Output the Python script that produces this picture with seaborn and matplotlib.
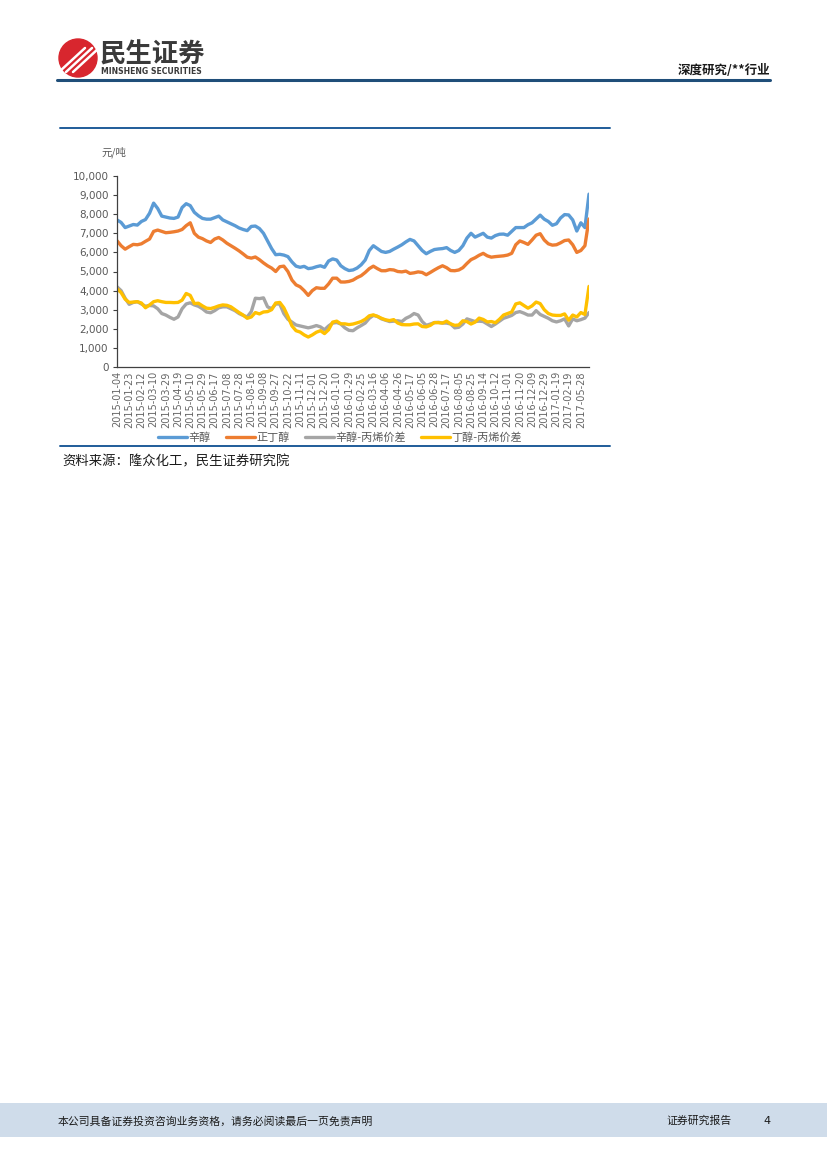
import numpy as np
import pandas as pd
import matplotlib
matplotlib.use("Agg")
import matplotlib.pyplot as plt
import seaborn as sns
from matplotlib.patches import Circle, Rectangle
from matplotlib.ticker import FuncFormatter

# x axis labels (one label every 3 points)
tick_labels = ['2015-01-04', '2015-01-23', '2015-02-12', '2015-03-10', '2015-03-29', '2015-04-19',
               '2015-05-10', '2015-05-29', '2015-06-17', '2015-07-08', '2015-07-28', '2015-08-16',
               '2015-09-08', '2015-09-27', '2015-10-22', '2015-11-11', '2015-12-01', '2015-12-20',
               '2016-01-10', '2016-01-29', '2016-02-25', '2016-03-16', '2016-04-06', '2016-04-26',
               '2016-05-17', '2016-06-05', '2016-06-28', '2016-07-17', '2016-08-05', '2016-08-25',
               '2016-09-14', '2016-10-12', '2016-11-01', '2016-11-20', '2016-12-09', '2016-12-29',
               '2017-01-19', '2017-02-19', '2017-05-28']

# prices, 元/吨
octanol = [7700, 7570, 7300, 7380, 7460, 7430, 7620, 7720, 8050, 8580,
           8300, 7900, 7850, 7800, 7780, 7850, 8350, 8550, 8450, 8100,
           7920, 7780, 7740, 7740, 7820, 7900, 7700, 7600, 7500, 7400,
           7280, 7200, 7140, 7360, 7380, 7250, 7000, 6600, 6200, 5880,
           5900, 5860, 5780, 5500, 5280, 5220, 5270, 5150, 5180, 5250,
           5300, 5220, 5550, 5660, 5600, 5300, 5150, 5050, 5080, 5180,
           5350, 5600, 6100, 6350, 6200, 6050, 6000, 6050, 6170, 6280,
           6400, 6550, 6680, 6600, 6350, 6100, 5930, 6050, 6150, 6180,
           6200, 6250, 6100, 6000, 6100, 6350, 6750, 7000, 6800, 6900,
           7000, 6800, 6750, 6880, 6950, 6960, 6900, 7100, 7300, 7300,
           7300, 7450, 7550, 7750, 7950, 7740, 7620, 7420, 7500, 7800,
           7980, 7960, 7700, 7120, 7550, 7300, 9050]

butanol = [6610, 6350, 6170, 6300, 6420, 6400, 6450, 6580, 6700, 7100,
           7170, 7100, 7030, 7050, 7080, 7120, 7200, 7400, 7550, 7000,
           6800, 6720, 6600, 6520, 6700, 6780, 6650, 6480, 6350, 6220,
           6080, 5920, 5750, 5700, 5760, 5620, 5450, 5300, 5180, 5000,
           5250, 5280, 5000, 4550, 4300, 4200, 4000, 3750, 4000, 4150,
           4120, 4120, 4350, 4650, 4650, 4450, 4450, 4480, 4550, 4680,
           4780, 4950, 5150, 5280, 5150, 5040, 5040, 5100, 5080, 5000,
           4980, 5020, 4900, 4930, 4980, 4950, 4830, 4950, 5080, 5200,
           5300, 5200, 5050, 5040, 5080, 5200, 5420, 5620, 5720, 5850,
           5950, 5820, 5750, 5780, 5800, 5820, 5860, 5950, 6400, 6600,
           6520, 6420, 6650, 6900, 6980, 6650, 6450, 6380, 6400, 6500,
           6620, 6650, 6400, 6000, 6100, 6350, 7750]

octanol_spread = [4200, 4000, 3600, 3280, 3380, 3420, 3300, 3180, 3220, 3200,
                  3050, 2800, 2720, 2600, 2500, 2620, 3050, 3300, 3360, 3250,
                  3180, 3050, 2880, 2840, 2950, 3100, 3150, 3150, 3050, 2950,
                  2800, 2700, 2620, 2900, 3600, 3580, 3620, 3150, 3050, 3300,
                  3300, 2800, 2500, 2350, 2200, 2150, 2100, 2050, 2100, 2170,
                  2100, 1950, 2150, 2300, 2330, 2250, 2050, 1920, 1900, 2050,
                  2170, 2300, 2550, 2700, 2650, 2520, 2450, 2380, 2400, 2420,
                  2380, 2550, 2650, 2800, 2720, 2380, 2180, 2250, 2320, 2340,
                  2300, 2300, 2250, 2050, 2080, 2250, 2520, 2450, 2380, 2400,
                  2380, 2250, 2120, 2250, 2400, 2550, 2620, 2700, 2850, 2900,
                  2820, 2720, 2720, 2950, 2750, 2650, 2550, 2420, 2360, 2420,
                  2520, 2150, 2520, 2420, 2480, 2560, 2850]

butanol_spread = [4100, 3900, 3550, 3380, 3400, 3420, 3350, 3100, 3250, 3420,
                  3470, 3420, 3380, 3380, 3370, 3380, 3500, 3850, 3750, 3320,
                  3340, 3200, 3080, 3060, 3120, 3200, 3250, 3230, 3150, 3000,
                  2850, 2720, 2550, 2620, 2850, 2780, 2880, 2900, 3000, 3350,
                  3380, 3100, 2650, 2150, 1900, 1830, 1680, 1570, 1680, 1820,
                  1900, 1750, 1950, 2350, 2400, 2260, 2260, 2220, 2250, 2310,
                  2380, 2500, 2680, 2730, 2650, 2550, 2470, 2430, 2480, 2300,
                  2220, 2210, 2210, 2250, 2260, 2120, 2100, 2180, 2330, 2320,
                  2300, 2400, 2260, 2180, 2200, 2420, 2380, 2250, 2350, 2560,
                  2490, 2360, 2380, 2320, 2500, 2720, 2800, 2880, 3300, 3360,
                  3220, 3080, 3200, 3400, 3320, 3000, 2800, 2720, 2700, 2700,
                  2780, 2450, 2720, 2620, 2850, 2750, 4220]

series_names = ['辛醇', '正丁醇', '辛醇-丙烯价差', '丁醇-丙烯价差']
colors = ['#5b9bd5', '#ed7d31', '#a5a5a5', '#ffc000']

df = pd.DataFrame({
    '辛醇': octanol,
    '正丁醇': butanol,
    '辛醇-丙烯价差': octanol_spread,
    '丁醇-丙烯价差': butanol_spread,
})
df['idx'] = np.arange(len(df))
long_df = df.melt(id_vars='idx', var_name='series', value_name='price')

sns.set_theme(style="ticks")
plt.rcParams['font.family'] = ['DejaVu Sans', 'Noto Sans CJK SC']
cjk = ['Noto Sans CJK SC', 'DejaVu Sans']

W, H = 827, 1169
fig = plt.figure(figsize=(W / 100, H / 100), dpi=100)

# page decoration in pixel coordinates
page = fig.add_axes([0, 0, 1, 1])
page.set_xlim(0, W)
page.set_ylim(H, 0)
page.axis('off')

# logo
page.add_patch(Circle((78, 58), 19, color='#d8262e'))
for off in [-7, 0, 7]:
    page.plot([66 + off, 92 + off], [72, 48], color='white', lw=1.8, solid_capstyle='round')
page.text(100, 55, '民生证券', fontsize=19, fontweight='bold', color='#3a3a3a',
          family=cjk, va='center', ha='left')
page.text(101, 71.5, 'MINSHENG SECURITIES', fontsize=5.6, fontweight='bold', color='#3a3a3a',
          va='center', ha='left')
page.text(770, 70, '深度研究/**行业', fontsize=9, fontweight='bold', color='#1a1a1a',
          family=cjk, va='center', ha='right')
page.plot([57, 770], [79.5, 79.5], color='#1f4e79', lw=2.2)

# chart frame lines
page.plot([60, 610], [128, 128], color='#1f5c99', lw=1.4)
page.plot([60, 610], [446, 446], color='#1f5c99', lw=1.4)
page.text(62, 461, '资料来源：隆众化工，民生证券研究院', fontsize=9.6, color='#1a1a1a',
          family=cjk, va='center', ha='left')
page.text(101, 152, '元/吨', fontsize=7.5, color='#595959', family=cjk, va='center', ha='left')

# footer band
page.add_patch(Rectangle((0, 1103), W, 34, color='#cfdcea', lw=0))
page.text(58, 1121, '本公司具备证券投资咨询业务资格，请务必阅读最后一页免责声明', fontsize=7.8,
          color='#1a1a1a', family=cjk, va='center', ha='left')
page.text(666, 1121, '证券研究报告', fontsize=7.8, color='#1a1a1a', family=cjk,
          va='center', ha='left')
page.text(763, 1121, '4', fontsize=8, color='#1a1a1a', va='center', ha='left')

# main chart
ax = fig.add_axes([117 / W, 1 - 367 / H, (589 - 117) / W, (367 - 176) / H])
sns.lineplot(data=long_df, x='idx', y='price', hue='series', hue_order=series_names,
             palette=colors, linewidth=2.4, ax=ax, legend=False)
ax.set_xlim(0, len(df) - 1)
ax.set_ylim(0, 10000)
ax.set_yticks(range(0, 10001, 1000))
ax.yaxis.set_major_formatter(FuncFormatter(lambda v, p: f'{int(v):,}'))
ax.set_xticks(range(0, 3 * len(tick_labels), 3))
ax.set_xticklabels(tick_labels, rotation=90)
ax.set_xlabel('')
ax.set_ylabel('')
ax.tick_params(axis='x', length=0, labelsize=7, colors='#666666', pad=3)
ax.tick_params(axis='y', length=3, width=0.8, labelsize=7.5, colors='#595959', pad=3)
ax.tick_params(axis='y', color='#404040')
for s in ['top', 'right']:
    ax.spines[s].set_visible(False)
for s in ['left', 'bottom']:
    ax.spines[s].set_color('#404040')
    ax.spines[s].set_linewidth(0.9)
ax.patch.set_alpha(0)

handles = [plt.Line2D([], [], color=c, lw=2.4) for c in colors]
fig.legend(handles, series_names, loc='center', bbox_to_anchor=(340 / W, 1 - 438 / H),
           ncol=4, frameon=False, handlelength=2.6, handletextpad=0.15,
           columnspacing=1.35, prop={'family': cjk, 'size': 8},
           labelcolor='#595959')

fig.savefig('out.png', dpi=100)
